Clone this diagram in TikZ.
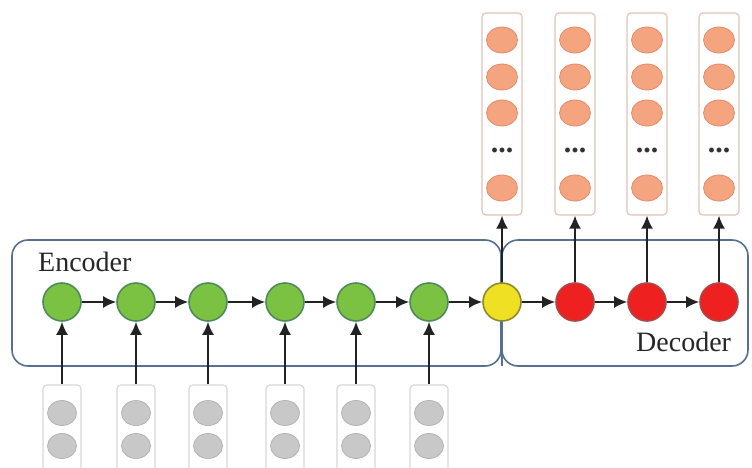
\documentclass[tikz,border=0pt]{standalone}
\usepackage{fontspec}
\setmainfont{Liberation Serif}
\usetikzlibrary{arrows.meta,shapes.geometric}
\definecolor{boxblue}{HTML}{56708F}
\definecolor{gfill}{HTML}{7CC242}
\definecolor{gdraw}{HTML}{4E8A5C}
\definecolor{yfill}{HTML}{F0E024}
\definecolor{ydraw}{HTML}{8C8A30}
\definecolor{rfill}{HTML}{EE2020}
\definecolor{rdraw}{HTML}{A84848}
\definecolor{ofill}{HTML}{F4A47E}
\definecolor{odraw}{HTML}{E28C6C}
\definecolor{obox}{HTML}{E2C4B6}
\definecolor{ifill}{HTML}{C8C8C8}
\definecolor{idraw}{HTML}{B4B4B4}
\definecolor{ibox}{HTML}{D8D8D8}
\definecolor{arr}{HTML}{222222}
\tikzset{
  groupbox/.style={draw=boxblue, line width=1.6pt, rounded corners=16pt},
  cell/.style={circle, minimum size=38pt, inner sep=0pt, line width=1.6pt},
  enc/.style={cell, fill=gfill, draw=gdraw},
  ctx/.style={cell, fill=yfill, draw=ydraw},
  dec/.style={cell, fill=rfill, draw=rdraw},
  outbox/.style={draw=obox, fill=white, line width=1.2pt, rounded corners=4pt, minimum width=40pt, minimum height=202pt, inner sep=0pt},
  inbox/.style={draw=ibox, fill=white, line width=1.2pt, rounded corners=4pt, minimum width=38pt, minimum height=88pt, inner sep=0pt},
  ocell/.style={ellipse, minimum width=31pt, minimum height=26pt, inner sep=0pt, fill=ofill, draw=odraw, line width=0.8pt},
  icell/.style={ellipse, minimum width=29pt, minimum height=25pt, inner sep=0pt, fill=ifill, draw=idraw, line width=0.8pt},
  flow/.style={draw=arr, line width=2pt, -{Latex[length=13pt,width=12pt]}},
  lbl/.style={font=\fontsize{28}{30}\selectfont, inner sep=0pt, text=black!85},
  dots/.style={font=\fontsize{30}{30}\selectfont\bfseries, inner sep=0pt, text=black!80}
}
\begin{document}
\begin{tikzpicture}[x=1pt,y=-1pt]
\clip (0,0) rectangle (752,468);
\useasboundingbox (0,0) rectangle (752,468);
\fill[white] (0,0) rectangle (752,468);
% group boxes
\draw[groupbox] (12,240) rectangle (501,366);
\draw[groupbox] (502,240) rectangle (748,366);
\node[lbl, anchor=west] (enclbl) at (38,262) {Encoder};
\node[lbl, anchor=west] (declbl) at (636,342) {Decoder};
% encoder cells
\foreach \i/\x in {1/62,2/136,3/208,4/285,5/356,6/429}{
  \node[enc] (e\i) at (\x,302) {};
  \node[inbox] (in\i) at (\x,429) {};
  \node[icell] (ia\i) at (\x,413) {};
  \node[icell] (ib\i) at (\x,446) {};
  \draw[flow] (in\i) -- (e\i);
}
\node[ctx] (c) at (502,302) {};
\foreach \i/\x in {1/575,2/647,3/719}{
  \node[dec] (d\i) at (\x,302) {};
}
% output boxes
\foreach \i/\x in {1/502,2/575,3/647,4/719}{
  \node[outbox] (o\i) at (\x,114) {};
  \node[ocell] (oa\i) at (\x,40) {};
  \node[ocell] (ob\i) at (\x,77) {};
  \node[ocell] (oc\i) at (\x,113) {};
  \node[dots] (od\i) at (\x,150) {...};
  \node[ocell] (oe\i) at (\x,188) {};
}
% horizontal flow
\draw[flow] (e1) -- (e2);
\draw[flow] (e2) -- (e3);
\draw[flow] (e3) -- (e4);
\draw[flow] (e4) -- (e5);
\draw[flow] (e5) -- (e6);
\draw[flow] (e6) -- (c);
\draw[flow] (c) -- (d1);
\draw[flow] (d1) -- (d2);
\draw[flow] (d2) -- (d3);
% vertical outputs
\coordinate (cb) at (502,366);
\draw[draw=boxblue, line width=1.4pt] (c.south) -- (cb);
\draw[flow] (c.north) -- (o1.south);
\draw[flow] (d1.north) -- (o2.south);
\draw[flow] (d2.north) -- (o3.south);
\draw[flow] (d3.north) -- (o4.south);
\end{tikzpicture}
\end{document}
